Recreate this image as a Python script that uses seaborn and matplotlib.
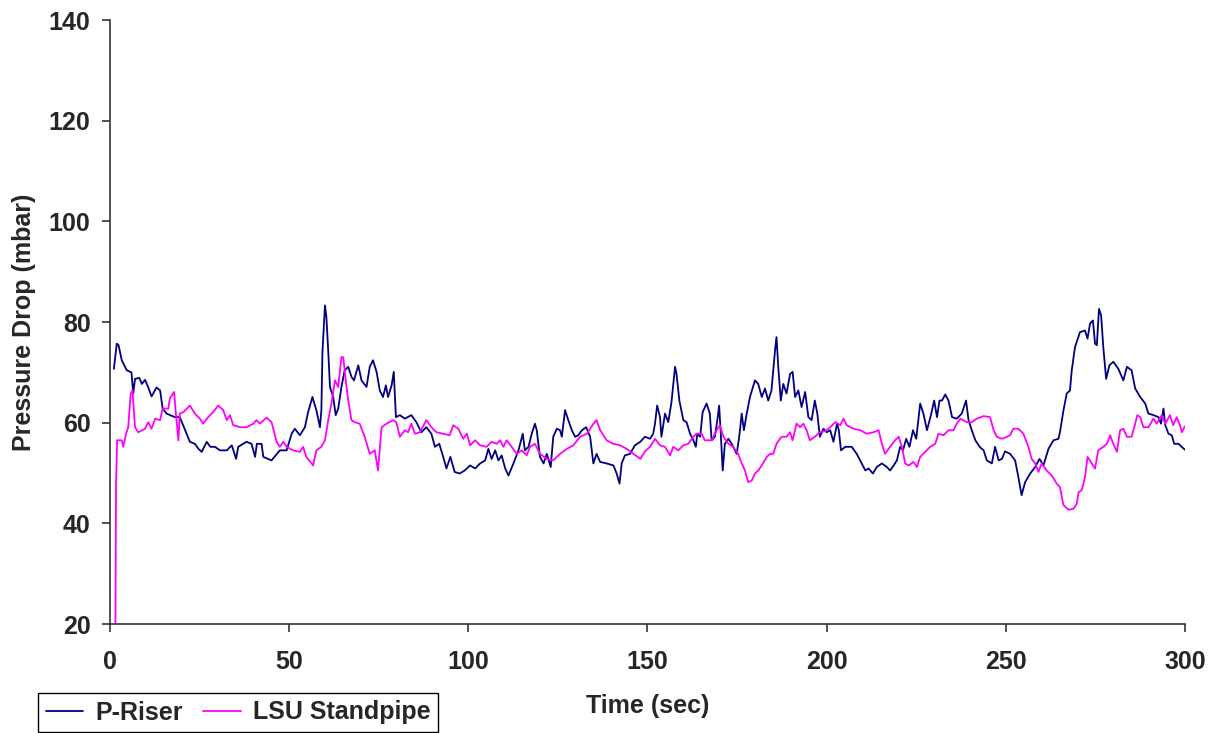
import matplotlib
matplotlib.use("Agg")
import matplotlib.pyplot as plt
import pandas as pd
import seaborn as sns

# P-Riser (time in sec, pressure drop in mbar)
riser_t = [1.1, 1.9, 2.4, 3.3, 4.7, 6.0, 6.5, 7.0, 8.2, 8.9, 9.8, 10.7, 11.6, 13.0, 14.0, 14.7, 15.8, 18.1, 19.5,
           21.4, 22.3, 23.7, 24.7, 25.6, 27.0, 28.0, 29.3, 30.7, 32.6, 34.0, 35.2, 35.8, 38.1, 39.5, 40.5, 41.0,
           42.3, 42.8, 45.1, 47.4, 49.3, 50.7, 51.6, 53.0, 54.4, 55.3, 56.5, 57.6, 58.6, 59.0, 59.3, 60.0, 60.4,
           60.9, 61.4, 62.3, 63.0, 63.7, 64.6, 65.5, 66.5, 67.4, 68.1, 69.3, 70.2, 71.6, 72.5, 73.4, 74.4, 75.3,
           76.2, 77.0, 77.6, 78.6, 79.2, 79.8, 80.9, 82.3, 84.1, 85.5, 86.9, 88.3, 89.7, 90.7, 91.9, 93.0, 93.9,
           95.0, 96.2, 97.6, 99.0, 100.5, 101.9, 103.3, 104.7, 105.6, 106.5, 107.5, 108.4, 109.3, 110.3, 111.2,
           112.6, 114.0, 115.2, 115.8, 116.8, 117.7, 118.6, 119.1, 120.0, 121.0, 121.9, 123.0, 123.7, 124.7,
           125.6, 126.1, 127.0, 127.9, 128.9, 129.8, 130.7, 131.7, 132.9, 134.0, 134.9, 135.8, 136.8, 138.6,
           140.5, 141.4, 142.2, 142.8, 143.7, 145.1, 146.5, 148.0, 149.3, 150.7, 151.6, 152.1, 152.7, 153.5,
           153.9, 154.9, 155.8, 156.7, 157.7, 158.1, 158.9, 160.0, 160.9, 161.9, 162.8, 163.5, 163.9, 164.7,
           165.4, 166.5, 167.4, 167.9, 168.8, 169.5, 170.0, 170.4, 171.0, 171.6, 172.6, 173.5, 174.9, 175.6,
           176.3, 176.9, 177.7, 178.6, 180.0, 180.9, 181.9, 182.8, 183.7, 184.6, 185.6, 186.0, 186.5, 187.2,
           187.9, 188.8, 189.8, 190.5, 191.2, 192.1, 193.0, 194.0, 194.9, 195.8, 196.7, 197.4, 198.1, 199.1,
           200.0, 201.0, 201.9, 202.9, 203.4, 204.0, 205.2, 207.0, 208.4, 209.8, 210.8, 211.7, 212.9, 214.0,
           215.4, 216.8, 217.7, 218.7, 219.6, 220.5, 221.3, 222.2, 223.1, 224.1, 225.0, 226.1, 227.0, 228.0,
           229.1, 230.0, 230.8, 231.5, 232.2, 233.1, 234.0, 235.0, 236.3, 237.7, 238.9, 239.6, 240.5, 241.5,
           242.7, 243.8, 244.7, 246.1, 247.0, 248.0, 248.9, 249.8, 251.2, 252.6, 253.5, 254.4, 255.4, 256.8,
           258.2, 259.4, 260.5, 261.9, 263.3, 264.7, 265.1, 266.1, 267.0, 267.9, 268.4, 269.3, 270.7, 272.1,
           272.8, 273.5, 274.3, 274.9, 275.4, 276.0, 276.6, 277.2, 278.0, 278.9, 280.0, 281.4, 282.8, 283.8,
           285.1, 286.1, 287.5, 288.9, 289.8, 291.2, 292.6, 293.3, 294.0, 294.5, 295.4, 296.3, 297.0, 298.2,
           300.0]
riser_p = [70.7, 75.7, 75.4, 72.4, 70.4, 70.0, 65.8, 68.7, 68.9, 67.7, 68.5, 67.0, 65.2, 67.0, 66.4, 62.8, 61.8,
           61.1, 61.1, 57.8, 56.2, 55.8, 54.8, 54.2, 56.2, 55.2, 55.2, 54.5, 54.5, 55.5, 52.8, 55.2, 56.2, 55.8,
           53.2, 55.8, 55.8, 53.2, 52.5, 54.5, 54.5, 57.8, 58.8, 57.5, 59.1, 62.1, 65.1, 62.5, 59.1, 62.5, 74.0,
           83.3, 81.0, 74.4, 67.1, 65.1, 61.5, 62.8, 67.1, 70.4, 71.1, 69.1, 68.4, 71.4, 68.4, 67.1, 71.1, 72.4,
           70.1, 66.4, 65.1, 67.4, 65.1, 67.4, 70.1, 61.1, 61.5, 60.8, 61.5, 60.1, 58.1, 59.1, 57.8, 55.2, 55.8,
           53.2, 50.9, 53.2, 50.2, 49.9, 50.5, 51.5, 50.9, 51.9, 52.5, 54.8, 52.8, 54.5, 52.5, 53.5, 50.9, 49.5,
           51.9, 54.5, 57.8, 54.5, 55.2, 57.8, 59.8, 58.5, 53.2, 51.9, 53.8, 51.2, 57.2, 58.8, 58.5, 57.2, 62.5,
           60.5, 58.5, 57.2, 57.5, 58.5, 59.1, 57.2, 51.9, 53.8, 52.2, 51.9, 51.5, 49.9, 47.9, 51.9, 53.5, 53.8,
           55.5, 56.2, 57.2, 56.8, 57.8, 59.8, 63.4, 61.1, 57.2, 61.8, 60.1, 64.1, 71.1, 69.7, 64.4, 60.5, 60.1,
           57.8, 56.5, 55.2, 57.8, 57.2, 62.1, 63.8, 61.8, 56.5, 57.2, 60.5, 63.4, 58.5, 50.5, 55.8, 56.8, 55.8,
           53.8, 57.2, 61.8, 58.5, 61.8, 65.1, 68.4, 67.7, 65.1, 66.8, 64.4, 66.4, 74.4, 77.0, 71.1, 64.4, 67.7,
           65.8, 69.7, 70.1, 65.1, 66.4, 63.1, 66.1, 61.1, 60.5, 64.4, 61.8, 57.2, 58.8, 58.1, 58.5, 56.2, 59.8,
           58.5, 54.5, 55.2, 55.2, 53.8, 51.9, 50.5, 50.9, 49.9, 51.2, 51.9, 51.2, 50.5, 51.5, 52.5, 55.2, 54.5,
           56.8, 55.2, 58.5, 56.8, 63.8, 61.8, 58.5, 61.5, 64.4, 61.1, 64.4, 64.4, 65.6, 64.4, 61.1, 60.8, 61.8,
           64.4, 60.5, 58.5, 56.5, 55.2, 54.5, 52.5, 51.9, 55.2, 52.5, 52.8, 54.3, 53.8, 52.5, 49.2, 45.6, 48.2,
           49.9, 51.2, 52.8, 51.5, 54.8, 56.5, 56.8, 58.1, 62.5, 65.8, 66.4, 70.4, 75.0, 78.0, 78.3, 76.7, 79.7,
           80.3, 75.7, 75.4, 82.6, 81.3, 75.0, 68.7, 71.4, 72.1, 70.7, 68.4, 71.1, 70.4, 66.8, 65.1, 63.8, 61.8,
           61.5, 61.1, 59.8, 62.8, 59.5, 57.8, 57.5, 55.8, 55.8, 54.6]

# LSU Standpipe
lsu_t = [1.5, 1.7, 2.0, 3.3, 3.7, 4.5, 5.1, 5.8, 6.3, 7.0, 7.9, 9.8, 10.7, 11.6, 12.6, 14.0, 14.7, 16.3, 16.7,
         17.9, 18.4, 19.1, 19.5, 20.5, 22.3, 23.7, 25.1, 26.0, 27.4, 28.8, 30.2, 31.6, 32.6, 33.5, 34.4, 36.3,
         38.1, 40.0, 40.9, 41.8, 43.7, 45.1, 46.5, 47.4, 48.4, 49.3, 51.1, 53.0, 53.9, 54.8, 56.7, 57.6, 59.0,
         60.0, 60.9, 61.8, 62.8, 63.7, 64.6, 65.1, 65.8, 66.5, 67.4, 68.3, 69.7, 71.1, 72.5, 73.9, 74.8, 75.8,
         77.2, 79.0, 79.9, 80.9, 82.3, 83.2, 84.1, 85.1, 86.5, 88.3, 89.7, 91.1, 93.0, 94.8, 95.8, 97.2, 98.6,
         99.6, 100.5, 101.9, 103.3, 105.1, 106.5, 107.9, 108.9, 109.8, 110.7, 112.1, 113.5, 114.9, 116.3, 117.2,
         118.6, 120.0, 121.9, 123.7, 125.6, 127.5, 129.3, 131.2, 133.1, 134.9, 135.8, 136.8, 138.6, 140.5,
         142.4, 144.2, 146.1, 148.0, 149.3, 150.7, 152.1, 153.5, 154.9, 156.3, 157.2, 158.6, 160.0, 161.4,
         162.8, 163.7, 165.1, 166.0, 167.9, 169.3, 170.2, 171.2, 172.6, 173.9, 175.3, 176.3, 177.2, 178.1,
         179.1, 180.0, 180.9, 181.9, 183.3, 184.2, 185.1, 186.0, 187.4, 188.8, 189.8, 190.5, 191.6, 192.6,
         193.5, 194.4, 195.3, 196.7, 198.1, 199.5, 201.0, 202.4, 203.8, 204.7, 205.6, 207.5, 209.4, 211.2,
         213.1, 214.5, 215.4, 216.3, 217.7, 219.1, 220.1, 221.0, 221.9, 222.9, 224.2, 225.2, 226.1, 227.5,
         228.9, 230.3, 231.2, 232.6, 234.0, 235.4, 236.3, 237.3, 239.1, 240.5, 241.9, 243.8, 245.6, 246.6,
         247.5, 248.9, 250.3, 251.2, 252.1, 253.5, 254.9, 256.3, 257.2, 258.2, 259.1, 260.0, 261.4, 262.8,
         264.2, 265.1, 266.1, 267.5, 268.9, 269.8, 270.3, 271.2, 272.1, 272.8, 274.0, 274.9, 275.8, 277.2,
         278.2, 279.1, 280.0, 281.0, 281.9, 282.8, 283.8, 285.1, 286.1, 286.7, 287.5, 288.4, 289.8, 291.2,
         292.1, 293.5, 294.5, 295.8, 296.7, 297.7, 298.6, 299.1, 300.0]
lsu_p = [15.0, 48.0, 56.5, 56.5, 55.2, 57.8, 59.1, 65.8, 66.4, 59.1, 58.1, 58.8, 60.1, 58.8, 60.8, 60.5, 62.8,
         62.8, 64.8, 66.1, 61.8, 56.5, 61.8, 62.1, 63.4, 61.8, 60.8, 59.8, 61.1, 62.1, 63.4, 62.5, 60.5, 61.5,
         59.5, 59.1, 59.1, 59.8, 60.5, 59.8, 61.0, 60.1, 56.2, 55.2, 56.2, 55.2, 54.5, 54.2, 55.2, 53.2, 51.5,
         54.5, 55.2, 56.5, 60.5, 63.8, 68.4, 67.1, 73.0, 73.0, 68.4, 64.4, 60.5, 60.1, 59.8, 57.2, 53.8, 54.5,
         50.5, 59.1, 59.8, 60.5, 60.1, 57.2, 58.5, 58.1, 59.8, 57.8, 58.1, 60.5, 59.1, 58.1, 57.8, 57.5, 59.5,
         58.8, 56.8, 57.8, 55.5, 56.5, 55.5, 55.2, 56.2, 55.8, 56.5, 55.2, 56.5, 55.2, 53.8, 54.5, 53.5, 55.2,
         55.8, 53.8, 52.8, 52.5, 53.8, 54.8, 55.5, 57.2, 57.8, 59.8, 60.5, 58.5, 56.5, 55.8, 55.5, 54.8, 53.8,
         52.8, 54.3, 55.2, 56.8, 55.5, 55.2, 53.5, 55.2, 54.5, 55.5, 55.8, 57.2, 57.8, 57.8, 56.5, 56.5, 58.5,
         59.5, 57.2, 55.8, 55.2, 53.8, 51.9, 50.5, 48.2, 48.5, 49.9, 50.5, 51.5, 53.2, 53.8, 53.8, 55.8, 57.2,
         57.2, 58.1, 56.5, 59.8, 59.1, 59.8, 58.5, 56.5, 57.2, 58.1, 58.3, 59.1, 60.1, 59.5, 60.8, 59.5, 58.8,
         58.5, 57.8, 58.1, 58.5, 55.8, 53.8, 55.2, 56.5, 57.2, 55.2, 51.9, 51.5, 52.2, 51.2, 53.2, 54.2, 55.2,
         55.8, 57.8, 57.5, 58.5, 58.5, 59.8, 60.8, 60.1, 60.1, 60.8, 61.3, 61.1, 58.5, 57.2, 56.8, 57.2, 57.5,
         58.8, 58.8, 57.8, 55.2, 52.8, 51.9, 50.2, 51.9, 50.5, 49.5, 47.9, 47.2, 43.6, 42.7, 42.9, 43.9, 46.2,
         46.6, 49.2, 53.2, 51.9, 50.9, 54.5, 55.2, 55.8, 57.5, 55.8, 54.2, 58.5, 58.8, 57.2, 57.2, 59.8, 61.5,
         61.1, 59.1, 59.1, 60.8, 59.8, 61.5, 59.8, 61.5, 59.5, 61.1, 59.5, 58.1, 59.3]

x_ticks = [0, 50, 100, 150, 200, 250, 300]
y_ticks = [20, 40, 60, 80, 100, 120, 140]

riser = pd.DataFrame({"Time": riser_t, "Pressure": riser_p})
lsu = pd.DataFrame({"Time": lsu_t, "Pressure": lsu_p})

sns.set_style("ticks")
plt.rcParams["font.family"] = ["Liberation Sans", "DejaVu Sans"]
plt.rcParams["font.weight"] = "bold"

fig = plt.figure(figsize=(12.19, 7.33), dpi=100)
ax = fig.add_axes([0.0902, 0.1487, 0.8819, 0.824])

sns.lineplot(data=riser, x="Time", y="Pressure", color="#000080", linewidth=1.3,
             estimator=None, sort=False, ax=ax, label="P-Riser", legend=False)
sns.lineplot(data=lsu, x="Time", y="Pressure", color="#FF00FF", linewidth=1.3,
             estimator=None, sort=False, ax=ax, label="LSU Standpipe", legend=False)

ax.set_xlim(0, 300)
ax.set_ylim(20, 140)
ax.set_xticks(x_ticks)
ax.set_yticks(y_ticks)
ax.tick_params(axis="both", labelsize=18, length=6, width=1.2, color="#333333", direction="out")
ax.tick_params(axis="y", pad=8)
ax.tick_params(axis="x", pad=13)
for lab in ax.get_xticklabels() + ax.get_yticklabels():
    lab.set_fontweight("bold")

ax.set_xlabel("Time (sec)", fontsize=18, fontweight="bold", labelpad=14)
ax.set_ylabel("Pressure Drop (mbar)", fontsize=18, fontweight="bold", labelpad=9)

for side in ["top", "right"]:
    ax.spines[side].set_visible(False)
for side in ["left", "bottom"]:
    ax.spines[side].set_color("#333333")
    ax.spines[side].set_linewidth(1.2)

handles, labels = ax.get_legend_handles_labels()
leg = fig.legend(handles, labels, loc="upper left", bbox_to_anchor=(38 / 1219, 1 - 693 / 733),
                 ncol=2, fontsize=18, frameon=True, fancybox=False, edgecolor="black",
                 framealpha=1, handlelength=1.5, columnspacing=0.8, handletextpad=0.5,
                 borderpad=0.3, borderaxespad=0)
leg.get_frame().set_linewidth(1.0)
for t in leg.get_texts():
    t.set_fontweight("bold")

fig.savefig("out.png", dpi=100)
